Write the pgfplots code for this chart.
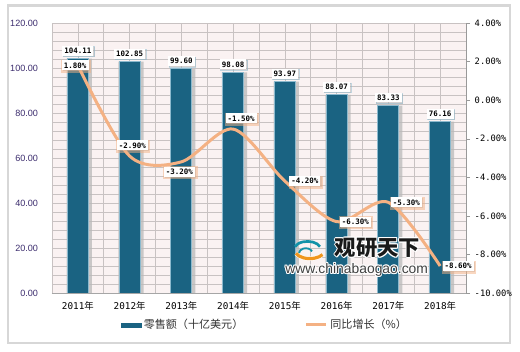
\documentclass[border=0pt]{standalone}
\usepackage{pgfplots}
\usepackage{pgfplotstable}
\pgfplotsset{compat=1.18}
\usepackage{fontspec}
\setmainfont{Liberation Sans}
\newfontfamily\cjk{Noto Sans CJK SC}
\newfontfamily\mono{DejaVu Sans Mono}
\usetikzlibrary{shadows}
\definecolor{barblue}{RGB}{26,99,130}
\definecolor{baredge}{RGB}{140,185,205}
\definecolor{lineor}{RGB}{244,177,131}
\definecolor{bgpink}{RGB}{250,242,242}
\definecolor{gridc}{RGB}{200,194,194}
\definecolor{ylab}{RGB}{60,45,110}
\definecolor{framec}{RGB}{215,215,215}
\newcommand{\yr}[1]{{\mono #1}{\cjk 年}}

\pgfplotstableread{
x y
0 104.11
1 102.85
2 99.60
3 98.08
4 93.97
5 88.07
6 83.33
7 76.16
}\salestable

\pgfplotstableread{
x y dx dy
0 1.8 -2 0
1 -2.9 2 8
2 -3.2 -1.5 -7.5
3 -1.5 6 8
4 -4.2 15 0
5 -6.3 14 0
6 -5.3 13.5 0
7 -8.6 13.5 0
}\growthtable

\begin{document}
\begin{tikzpicture}
\path[use as bounding box] (0,0) rectangle (390pt,264pt);
\fill[white] (0,0) rectangle (390pt,264pt);
\draw[framec, line width=2pt] (6pt,6.75pt) rectangle (382.5pt,260pt);

\begin{axis}[
  at={(39pt,44.25pt)}, anchor=south west,
  scale only axis, width=310.5pt, height=202.5pt,
  xmin=-0.5, xmax=7.5, ymin=0, ymax=120,
  axis background/.style={fill=bgpink},
  xtick={0,...,7},
  xticklabels={\yr{2011},\yr{2012},\yr{2013},\yr{2014},\yr{2015},\yr{2016},\yr{2017},\yr{2018}},
  minor xtick={-0.5,0.5,...,7.5},
  ytick={0,20,...,120}, minor y tick num=4,
  grid=both,
  major grid style={gridc, line width=0.5pt},
  minor grid style={gridc, line width=0.5pt},
  axis x line*=bottom, axis y line*=left,
  separate axis lines,
  x axis line style={gray!70, -},
  y axis line style={draw=none},
  major tick length=0pt, minor tick length=0pt,
  yticklabel style={font=\fontsize{6.8}{7}\selectfont, text=ylab, xshift=-7pt},
  xticklabel style={font=\fontsize{7}{8}\selectfont, text=black, yshift=-3pt},
  y tick label style={/pgf/number format/.cd, fixed, fixed zerofill, precision=2, assume math mode=true},
]
\addplot[ybar, bar width=19pt, bar shift=1pt, fill=gray!55, draw=none, opacity=0.75] table[x=x,y=y]{\salestable};
\addplot[ybar, bar width=15.75pt, bar shift=0pt, fill=barblue, draw=baredge, line width=0.6pt,
  nodes near coords={\pgfmathprintnumber[fixed,fixed zerofill,precision=2,assume math mode=true]{\pgfplotspointmeta}},
  every node near coord/.append style={font=\mono\bfseries\fontsize{5.6}{6}\selectfont, text=black, fill=white, inner sep=1.6pt,
    drop shadow={shadow xshift=0.8pt, shadow yshift=-0.8pt, fill=gray!60}, anchor=center, yshift=6pt}
] table[x=x,y=y]{\salestable};
\end{axis}

% watermark
\foreach \ox/\oy in {-0.7/0,0.7/0,0/0.7,0/-0.7,-0.5/-0.5,0.5/0.5,-0.5/0.5,0.5/-0.5}{
  \node[font=\cjk\bfseries\fontsize{16}{17}\selectfont, text=white] at (283pt+\ox pt,78pt+\oy pt) {观研天下};
  \node[font=\fontsize{10.4}{11}\selectfont, text=white] at (267.5pt+\ox pt,61.5pt+\oy pt) {www.chinabaogao.com};
}
\node[font=\cjk\bfseries\fontsize{16}{17}\selectfont, text=black!90] at (283pt,78pt) {观研天下};
\node[font=\fontsize{10.4}{11}\selectfont, text=black!75] at (267.5pt,61.5pt) {www.chinabaogao.com};
\draw[line width=3.2pt, white] (222pt,74pt) arc (200:330:11pt and 6pt);
\draw[line width=2.4pt, color={rgb,255:red,240;green,150;blue,30}] (222pt,74pt) arc (200:330:11pt and 6pt);
\draw[line width=2pt, barblue!70!cyan] (240pt,79pt) arc (20:160:10pt and 6pt);
\draw[line width=1.4pt, barblue!70!cyan] (234pt,75.5pt) arc (20:180:5pt and 3.5pt);

\begin{axis}[
  at={(39pt,44.25pt)}, anchor=south west,
  scale only axis, width=310.5pt, height=202.5pt,
  xmin=-0.5, xmax=7.5, ymin=-10, ymax=4,
  axis x line=none,
  axis y line*=right,
  y axis line style={gray!80, -},
  ytick={-10,-8,...,4},
  tick align=outside, major tick length=3pt,
  tick style={gray!80},
  yticklabel={\pgfmathprintnumber[fixed,fixed zerofill,precision=2,assume math mode=true]{\tick}\%},
  yticklabel style={font=\mono\fontsize{6.6}{7}\selectfont, text=black},
  legend style={at={(0.165,-0.1185)}, anchor=west, draw=none, fill=none, inner sep=0pt,
    font=\cjk\fontsize{8.3}{9}\selectfont, text=black!80, legend columns=2,
    /tikz/every even column/.append style={column sep=44pt}},
]
\addlegendimage{legend image code/.code={\fill[barblue] (0pt,-1.6pt) rectangle (15pt,1.6pt);}}
\addlegendentry{零售额（十亿美元）}
\addlegendimage{legend image code/.code={\draw[lineor, line width=2.25pt] (0pt,0pt) -- (15pt,0pt);}}
\addlegendentry{同比增长（\%）}
\addplot[lineor, line width=2.25pt, smooth, no markers,
  visualization depends on={\thisrow{dx}\as\dx},
  visualization depends on={\thisrow{dy}\as\dy},
  point meta=explicit,
  nodes near coords={\pgfmathprintnumber[fixed,fixed zerofill,precision=2,assume math mode=true]{\pgfplotspointmeta}\%},
  every node near coord/.append style={font=\mono\bfseries\fontsize{5.6}{6}\selectfont, text=black, fill=white, inner sep=1.6pt,
    drop shadow={shadow xshift=0.8pt, shadow yshift=-0.8pt, fill=gray!60}, anchor=center, xshift=\dx pt, yshift=\dy pt}
] table[x=x,y=y,meta=y]{\growthtable};
\end{axis}
\end{tikzpicture}
\end{document}
